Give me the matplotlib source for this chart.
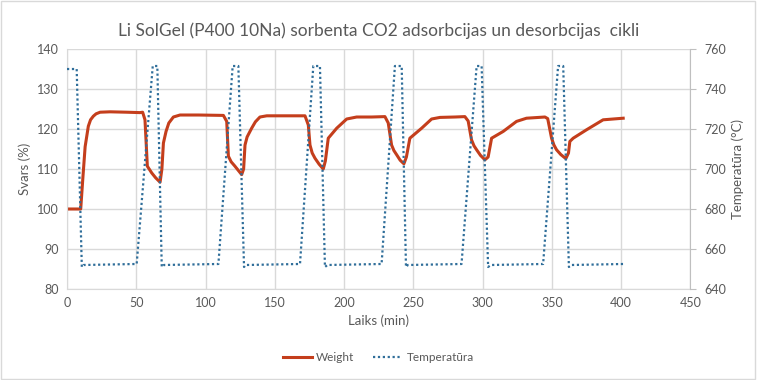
import numpy as np
import matplotlib.pyplot as plt
from matplotlib.patches import Rectangle

# data
weight_t = [0, 9.9, 11.5, 13.1, 15.4, 17, 19, 21, 23.9, 31.1, 43.1, 52.7, 54.6, 56.3, 58, 61.2, 64, 67.2, 68.5,
            69.6, 71.5, 73.5, 76.8, 81.6, 95, 112.9, 115.3, 116.5, 118.5, 121, 126.1, 127.5, 128.5, 130, 133.3,
            136, 139.3, 144.2, 160, 171.8, 174.2, 175.4, 177, 179, 182, 185, 186.5, 188.6, 194.7, 201.9, 209.1,
            220, 229.5, 231.9, 234.3, 236, 237.9, 240.5, 243.2, 245, 247.5, 256, 263.2, 269.2, 280, 287.2,
            289.6, 292, 293.8, 295.7, 298.5, 301.7, 304, 306.5, 314.9, 324.5, 331.7, 345, 347, 349.8, 351.5,
            353.4, 356.5, 360.1, 362, 363, 365.4, 375, 387, 401.5]
weight_v = [100, 100, 108, 115.6, 120.7, 122.3, 123.2, 123.8, 124.2, 124.3, 124.2, 124.1, 124.2, 122.3, 110.7, 109, 107.8, 106.7, 110,
            116.5, 119.4, 121.5, 123, 123.5, 123.5, 123.4, 121.9, 113.2, 111.8, 110.8, 108.6, 110, 116, 118, 120.2,
            121.8, 123, 123.3, 123.3, 123.3, 121, 116, 114, 112.7, 111.2, 110, 112, 117.7, 120.2, 122.5, 123,
            123, 123.1, 121.5, 116, 114.6, 113.6, 112.2, 111.3, 113, 117.7, 120.2, 122.5, 122.9, 123, 123.1,
            122, 117.3, 115.8, 114.8, 113.4, 112.3, 113, 117.7, 119.4, 121.9, 122.7, 123, 122.6, 117.7, 116,
            114.8, 113.6, 112.6, 114, 116.9, 117.7, 119.8, 122.3, 122.7]

temp_t = [0, 7.0, 10.7, 12, 50.3, 61.9, 65.2, 68.4, 70, 109.3, 119.6, 123.7, 127.8, 129,
          168.2, 177.8, 182.6, 186.2, 188, 227.1, 236.7, 241.6, 244.7, 246,
          284.8, 295.7, 299.3, 304, 306, 343.7, 354.5, 358.2, 362.3, 364, 401.5]
temp_v = [750, 750, 651, 652, 652.5, 751.5, 751.5, 651, 652, 652.5, 751.5, 751.5, 651, 652,
          652.5, 751.5, 751.5, 651, 652, 652.5, 751.5, 751.5, 651, 652,
          652.5, 751.5, 751.5, 651, 652, 652.5, 751.5, 751.5, 651, 652, 652.5]

grey = '#595959'
grid_c = '#D9D9D9'
plt.rcParams['font.family'] = ['Lato', 'DejaVu Sans']

fig = plt.figure(figsize=(7.57, 3.8), dpi=100)
ax = fig.add_axes([0.0885, 0.2395, 0.8235, 0.6315])
ax2 = ax.twinx()

l1, = ax.plot(weight_t, weight_v, color='#C43E1C', lw=2.2, label='Weight')
l2, = ax2.plot(temp_t, temp_v, color='#2F6E9A', lw=1.6, linestyle=(0, (1, 1.2)),
               label='Temperatūra')

ax.set_xlim(0, 450)
ax.set_ylim(80, 140)
ax2.set_ylim(640, 760)
ax.set_xticks(np.arange(0, 451, 50))
ax.set_yticks(np.arange(80, 141, 10))
ax2.set_yticks(np.arange(640, 761, 20))
ax.grid(True, color=grid_c, lw=1)
ax.set_axisbelow(True)

for a in (ax, ax2):
    for s in a.spines.values():
        s.set_visible(False)
ax.spines['bottom'].set_visible(True)
ax.spines['bottom'].set_color(grid_c)
ax.spines['left'].set_visible(True)
ax.spines['left'].set_color(grid_c)
ax2.spines['right'].set_visible(True)
ax2.spines['right'].set_color('#BFBFBF')

ax.tick_params(axis='both', length=0, colors=grey, labelsize=9, pad=6)
ax2.tick_params(axis='y', length=4, colors=grey, labelsize=9, pad=6)
ax2.tick_params(axis='y', color='#BFBFBF')

ax.set_xlabel('Laiks (min)', color=grey, fontsize=9.5)
ax.set_ylabel('Svars (%)', color=grey, fontsize=9.5)
ax2.set_ylabel('Temperatūra (°C)', color=grey, fontsize=9.5)

fig.suptitle('Li SolGel (P400 10Na) sorbenta CO2 adsorbcijas un desorbcijas  cikli',
             color=grey, fontsize=12.5, y=0.94)
fig.legend(handles=[l1, l2], loc='center', bbox_to_anchor=(0.5, 0.058), ncol=2,
           frameon=False, fontsize=8.5, labelcolor=grey, handlelength=2.4,
           handletextpad=0.4, columnspacing=1.6)

fig.patches.append(Rectangle((0.001, 0.003), 0.997, 0.994, transform=fig.transFigure,
                             fill=False, edgecolor='#D9D9D9', lw=1))

fig.savefig('out.png', dpi=100)
